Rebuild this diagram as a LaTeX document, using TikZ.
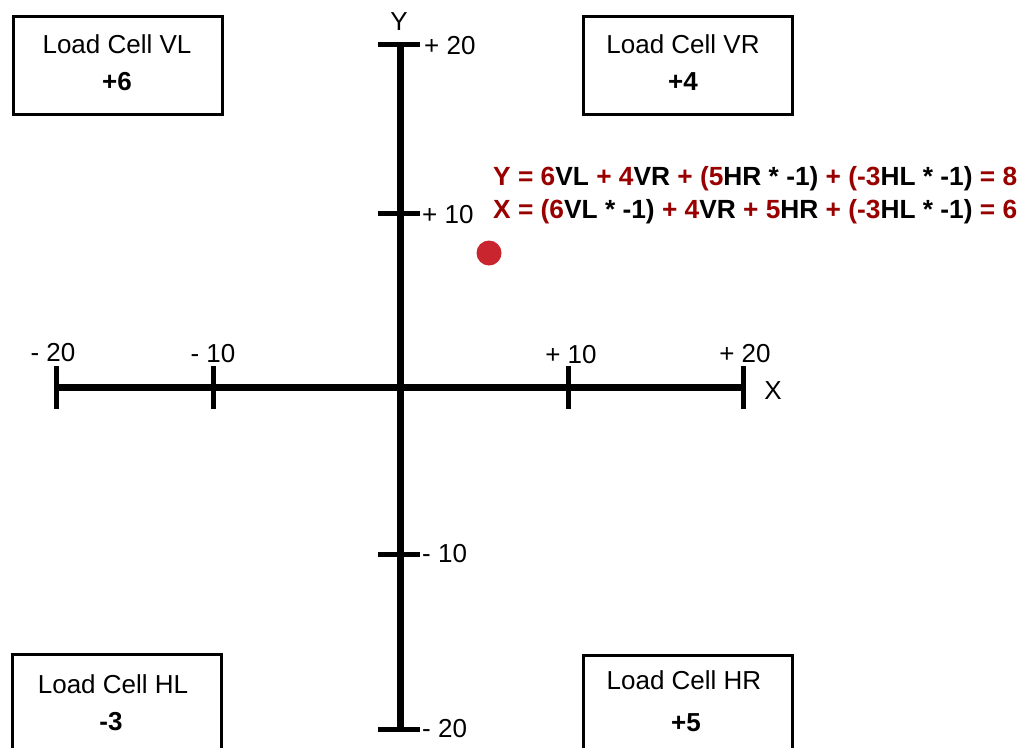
\documentclass[tikz,border=0pt]{standalone}
\usepackage{fontspec}
\setmainfont{Liberation Sans}
\definecolor{eqred}{HTML}{990000}
\definecolor{dotred}{HTML}{C8252E}
\begin{document}
\begin{tikzpicture}[x=1pt,y=-1pt,
  cellbox/.style={draw=black,line width=3pt},
  axis/.style={line width=7pt},
  tick/.style={line width=5pt},
  lbl/.style={font=\fontsize{26}{30}\selectfont,inner sep=0pt},
  val/.style={font=\fontsize{26}{30}\selectfont\bfseries,inner sep=0pt},
  eq/.style={font=\fontsize{26.3}{31}\selectfont\bfseries,inner sep=0pt,anchor=base west},
  every node/.style={inner sep=0pt}]
\useasboundingbox (0,0) rectangle (1024,747);
% boxes
\draw[cellbox] (13,16) rectangle (222,114);
\draw[cellbox] (583,16) rectangle (792,114);
\draw[cellbox] (12,654) rectangle (221,760);
\draw[cellbox] (583,655) rectangle (792,760);
\node[lbl] (vl) at (117,44) {Load Cell VL};
\node[val] (vlv) at (117,82) {+6};
\node[lbl] (vr) at (683,44) {Load Cell VR};
\node[val] (vrv) at (683,82) {+4};
\node[lbl] (hl) at (113,684) {Load Cell HL};
\node[val] (hlv) at (111,722) {-3};
\node[lbl] (hr) at (684,680) {Load Cell HR};
\node[val] (hrv) at (686,723) {+5};
% axes
\coordinate (ytop) at (400,44);
\coordinate (ybot) at (400,729);
\coordinate (xl) at (55,387);
\coordinate (xr) at (743,387);
\draw[axis] (ytop) -- (ybot);
\draw[axis] (xl) -- (xr);
% y ticks
\draw[tick] (378,44) -- (420,44);
\draw[tick] (378,213) -- (420,213);
\draw[tick] (378,554) -- (420,554);
\draw[tick] (378,729) -- (420,729);
% x ticks
\draw[tick] (56,366) -- (56,409);
\draw[tick] (213,366) -- (213,409);
\draw[tick] (568,366) -- (568,409);
\draw[tick] (743,366) -- (743,409);
% labels
\node[lbl] (ylab) at (399,22) {Y};
\node[lbl] (xlab) at (773,391) {X};
\node[lbl,anchor=west] (t20) at (424,46) {+ 20};
\node[lbl,anchor=west] (t10) at (422,215) {+ 10};
\node[lbl,anchor=west] (tm10) at (422,554) {- 10};
\node[lbl,anchor=west] (tm20) at (422,729) {- 20};
\node[lbl] (xm20) at (53,353) {- 20};
\node[lbl] (xm10) at (213,354) {- 10};
\node[lbl] (xp10) at (571,355) {+ 10};
\node[lbl] (xp20) at (745,354) {+ 20};
% dot
\fill[dotred] (489,253) circle (12.5);
% equations
\node[eq] (eq1) at (493,185) {\textcolor{eqred}{Y = 6}VL \textcolor{eqred}{+ 4}VR \textcolor{eqred}{+ (5}HR * -1) \textcolor{eqred}{+ (-3}HL * -1) \textcolor{eqred}{= 8}};
\node[eq] (eq2) at (493,218) {\textcolor{eqred}{X = (6}VL * -1) \textcolor{eqred}{+ 4}VR \textcolor{eqred}{+ 5}HR \textcolor{eqred}{+ (-3}HL * -1) \textcolor{eqred}{= 6}};
\end{tikzpicture}
\end{document}
